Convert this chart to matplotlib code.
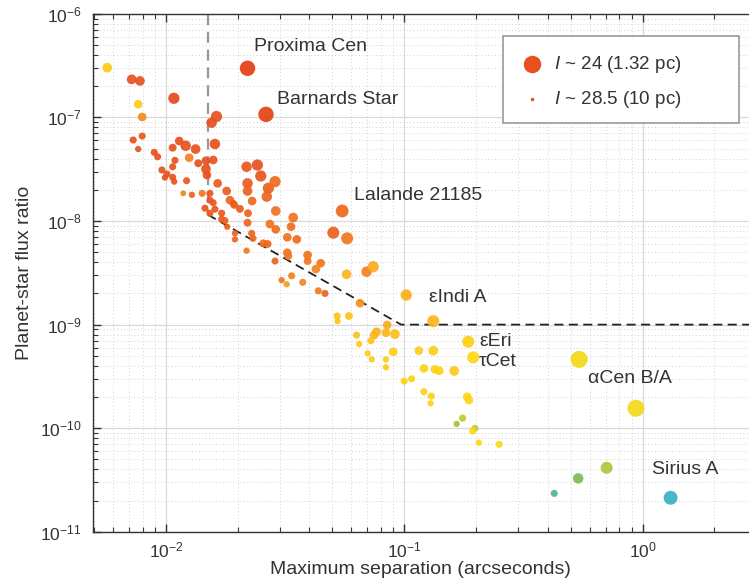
import numpy as np
import matplotlib
matplotlib.use('Agg')
import matplotlib.pyplot as plt
from matplotlib.colors import LinearSegmentedColormap
from matplotlib.patches import Rectangle
from matplotlib.ticker import NullFormatter

# ---- data ----
# separation (arcsec), planet/star flux ratio, I magnitude, stellar Teff (K)
sep = [0.00567, 0.00718, 0.00778, 0.00765, 0.0108, 0.00795, 0.0163, 0.01555,
       0.00729, 0.00795, 0.00765, 0.00893, 0.00923, 0.01067, 0.01137, 0.0121,
       0.01332, 0.01252, 0.01605, 0.01091, 0.01366, 0.01472, 0.01579,
       0.00962, 0.0101, 0.0099, 0.01067, 0.01067, 0.01083, 0.01221, 0.01472,
       0.01486, 0.01648, 0.01182, 0.01285, 0.0142, 0.0153, 0.0153, 0.01579,
       0.01458, 0.01605, 0.0153, 0.01798, 0.01856, 0.01934, 0.02044, 0.01713,
       0.01713, 0.01768, 0.01808, 0.01948, 0.0218, 0.0242, 0.0250, 0.0220,
       0.0220, 0.0230, 0.0269, 0.0287, 0.0265, 0.0289, 0.0221, 0.0220,
       0.01916, 0.01948, 0.0229, 0.0232, 0.0256, 0.0267, 0.0218, 0.0273,
       0.0289, 0.0342, 0.0335, 0.0323, 0.0354, 0.0504, 0.0576, 0.0323,
       0.0326, 0.0287, 0.0393, 0.0393, 0.0446, 0.0426, 0.0337, 0.0306,
       0.0321, 0.0375, 0.0436, 0.0465, 0.0573, 0.0695, 0.0741, 0.0652,
       0.1324, 0.0523, 0.0525, 0.0586, 0.0848, 0.0766, 0.0748, 0.0838,
       0.0914, 0.0631, 0.0725, 0.0647, 0.0702, 0.0730, 0.0899, 0.0838,
       0.0838, 0.1152, 0.1324, 0.1209, 0.1345, 0.1402, 0.1621, 0.1000,
       0.1074, 0.1209, 0.1298, 0.129, 0.1838, 0.1868, 0.1758, 0.1659,
       0.198, 0.1936, 0.2057, 0.2503, 0.938, 0.707, 0.537, 0.426]
flux = [3.02e-7, 2.33e-7, 2.25e-7, 1.34e-7, 1.53e-7, 1.01e-7, 1.02e-7, 8.89e-8,
        6.05e-8, 6.61e-8, 4.95e-8, 4.60e-8, 4.17e-8, 5.10e-8, 5.92e-8, 5.33e-8,
        4.95e-8, 4.08e-8, 5.54e-8, 3.85e-8, 3.61e-8, 3.82e-8, 3.88e-8,
        3.11e-8, 2.84e-8, 2.63e-8, 3.34e-8, 2.64e-8, 2.40e-8, 2.45e-8, 3.18e-8,
        2.78e-8, 2.31e-8, 1.85e-8, 1.79e-8, 1.85e-8, 1.85e-8, 1.59e-8, 1.50e-8,
        1.33e-8, 1.30e-8, 1.19e-8, 1.95e-8, 1.59e-8, 1.43e-8, 1.31e-8, 1.19e-8,
        1.04e-8, 1.01e-8, 8.81e-9, 7.61e-9, 3.34e-8, 3.47e-8, 2.72e-8, 2.31e-8,
        1.95e-8, 1.56e-8, 2.07e-8, 2.40e-8, 1.72e-8, 1.25e-8, 1.19e-8, 9.63e-9,
        1.48e-8, 6.65e-9, 7.61e-9, 6.81e-9, 6.09e-9, 6.00e-9, 5.17e-9, 9.35e-9,
        8.31e-9, 1.08e-8, 8.81e-9, 6.96e-9, 6.65e-9, 7.71e-9, 6.81e-9, 4.94e-9,
        4.59e-9, 4.11e-9, 4.69e-9, 4.11e-9, 3.91e-9, 3.44e-9, 2.96e-9, 2.69e-9,
        2.45e-9, 2.56e-9, 2.12e-9, 2.00e-9, 3.06e-9, 3.24e-9, 3.62e-9, 1.61e-9,
        1.08e-9, 1.21e-9, 1.08e-9, 1.21e-9, 9.91e-10, 8.54e-10, 7.93e-10, 8.35e-10,
        8.11e-10, 7.93e-10, 6.99e-10, 6.49e-10, 5.28e-10, 4.62e-10, 5.47e-10, 4.62e-10,
        3.87e-10, 5.60e-10, 5.60e-10, 3.78e-10, 3.70e-10, 3.59e-10, 3.57e-10, 2.85e-10,
        3.00e-10, 2.25e-10, 2.04e-10, 1.74e-10, 2.01e-10, 1.87e-10, 1.25e-10, 1.10e-10,
        9.97e-11, 9.39e-11, 7.24e-11, 6.99e-11, 1.56e-10, 4.15e-11, 3.28e-11, 2.35e-11]
imag = [27.0, 27.0, 27.0, 27.4, 26.4, 27.4, 26.4, 26.7,
        28.0, 28.0, 28.3, 28.0, 28.0, 27.7, 27.4, 26.7,
        27.0, 27.4, 26.7, 28.0, 27.7, 27.4, 27.4,
        28.0, 28.0, 28.3, 28.0, 28.0, 28.3, 28.0, 27.0,
        27.4, 27.4, 28.5, 28.3, 28.0, 28.0, 28.0, 28.0,
        28.0, 28.0, 28.0, 27.4, 27.4, 27.7, 27.7, 28.0,
        28.0, 28.0, 28.3, 28.3, 26.7, 26.4, 26.4, 26.7,
        27.0, 27.4, 26.4, 26.4, 26.7, 27.0, 27.7, 27.7,
        28.0, 28.3, 28.0, 28.0, 27.7, 27.7, 28.3, 27.4,
        27.4, 27.0, 27.4, 27.4, 27.4, 26.1, 26.1, 27.4,
        27.7, 28.0, 27.4, 27.7, 27.4, 27.4, 28.0, 28.3,
        28.3, 28.0, 28.0, 28.0, 27.0, 26.7, 26.4, 27.4,
        26.1, 28.0, 28.3, 27.7, 27.4, 27.4, 27.4, 27.4,
        27.0, 28.0, 28.0, 28.3, 28.3, 28.3, 27.4, 28.3,
        28.3, 27.4, 27.0, 27.4, 27.4, 27.4, 27.0, 28.0,
        28.0, 28.0, 28.0, 28.3, 27.4, 27.4, 28.0, 28.3,
        28.0, 28.0, 28.3, 28.0, 24.2, 26.1, 26.7, 28.0]
teff = [4800, 3300, 3300, 4900, 3150, 3900, 3300, 3250,
        3300, 3350, 3300, 3300, 3300, 3300, 3300, 3300,
        3300, 3800, 3250, 3300, 3300, 3300, 3300,
        3300, 3300, 3300, 3300, 3300, 3300, 3350, 3300,
        3300, 3400, 3800, 3450, 3700, 3350, 3350, 3350,
        3350, 3350, 3400, 3400, 3500, 3450, 3400, 3400,
        3400, 3450, 3450, 3450, 3350, 3300, 3350, 3400,
        3450, 3550, 3450, 3600, 3500, 3650, 3500, 3500,
        3400, 3500, 3500, 3550, 3550, 3500, 3700, 3650,
        3600, 3650, 3600, 3650, 3600, 3450, 3700, 3650,
        3700, 3500, 3650, 3700, 3700, 3850, 3800, 3700,
        4100, 3850, 3750, 3500, 4500, 3800, 4300, 4000,
        4500, 4700, 4700, 4700, 4300, 4400, 4500, 4500,
        4600, 4700, 4700, 4800, 4900, 4800, 4900, 4900,
        4900, 4900, 4900, 5000, 5000, 5000, 4800, 5000,
        5000, 5000, 5000, 5100, 5100, 5100, 5800, 6100,
        5800, 5200, 5200, 5200, 5400, 5900, 6600, 7500]

# named stars
named = ['Proxima Cen', 'Barnards Star', 'Lalande 21185', 'εIndi A',
         'εEri', 'τCet', 'αCen B/A', 'Sirius A']
named_sep = [0.0220, 0.0263, 0.0549, 0.102, 0.1856, 0.1947, 0.542, 1.311]
named_flux = [2.98e-7, 1.07e-7, 1.25e-8, 1.93e-9, 6.84e-10, 4.83e-10, 4.62e-10, 2.13e-11]
named_imag = [24.8, 24.8, 25.8, 26.4, 26.1, 26.1, 24.2, 25.4]
named_teff = [3100, 3150, 3600, 4400, 5000, 5200, 5400, 9900]

# inner working angle and contrast floor
iwa_sep = 0.015
iwa_flux = [1e-6, 1.15e-8]
curve_sep = [0.015, 0.097, 3.0]
curve_flux = [1.15e-8, 1e-9, 1e-9]

# legend entries
legend_labels = [r'$I$ ~ 24 (1.32 pc)', r'$I$ ~ 28.5 (10 pc)']

# ---- style ----
plt.rcParams['font.family'] = 'Liberation Sans'
plt.rcParams['mathtext.fontset'] = 'custom'
plt.rcParams['mathtext.rm'] = 'Liberation Sans'
plt.rcParams['mathtext.it'] = 'Liberation Sans:italic'

txt = '#333333'
anchors = [(3000, '#e23d19'), (3300, '#e8541e'), (3600, '#ee6f1e'),
           (3900, '#f48b1e'), (4300, '#f9ac1c'), (4800, '#fcca1a'),
           (5300, '#fedc16'), (5900, '#b5c53b'), (6600, '#80bb52'),
           (7500, '#55b68c'), (10000, '#3cb2c6')]
cmap = LinearSegmentedColormap.from_list(
    'teff', [((t - 3000) / 7000, c) for t, c in anchors])


def marker_size(mag):
    d_px = 17.5 - 2.6 * (np.asarray(mag) - 24.0)
    return (d_px * 0.72) ** 2


fig = plt.figure(figsize=(7.49, 5.85), dpi=100)
ax = fig.add_axes([0.1238, 0.0909, 0.8762, 0.8855])
ax.set_xscale('log')
ax.set_yscale('log')
ax.set_xlim(0.00493, 2.797)
ax.set_ylim(1e-11, 1e-6)

ax.grid(which='major', color='#d9d9d9', lw=0.9, ls='-')
ax.grid(which='minor', color='#d2d2d2', lw=0.7, ls=(0, (1, 2.5)))
ax.set_axisbelow(True)

ax.plot([iwa_sep, iwa_sep], iwa_flux, color='#999999', lw=1.6, ls=(0, (5, 3)), zorder=2)
ax.plot(curve_sep, curve_flux, color='#222222', lw=1.3, ls=(0, (5, 3)), zorder=2)

ax.scatter(sep, flux, s=marker_size(imag), c=teff, cmap=cmap, vmin=3000, vmax=10000,
           alpha=0.92, linewidths=0, zorder=3)
ax.scatter(named_sep, named_flux, s=marker_size(named_imag), c=named_teff, cmap=cmap,
           vmin=3000, vmax=10000, alpha=0.95, linewidths=0, zorder=3)

# label offsets in pixels
offsets = [(6, 22), (11, 15), (12, 15), (23, -2), (11, 0), (6, -4), (9, -19), (-19, 28)]
for name, x, y, off in zip(named, named_sep, named_flux, offsets):
    ax.annotate(name, (x, y), xytext=off, textcoords='offset pixels',
                ha='left', va='center', fontsize=14, color=txt)

ax.tick_params(which='both', direction='in', top=True, right=False, colors=txt,
               labelsize=12.5)
ax.tick_params(axis='x', pad=6)
ax.tick_params(axis='y', pad=8)
ax.tick_params(which='major', length=6, width=1)
ax.tick_params(which='minor', length=3.5, width=0.8)
ax.xaxis.set_minor_formatter(NullFormatter())
ax.yaxis.set_minor_formatter(NullFormatter())
for s in ['left', 'bottom', 'top']:
    ax.spines[s].set_color(txt)
    ax.spines[s].set_linewidth(1)
ax.spines['right'].set_visible(False)

ax.set_xlabel('Maximum separation (arcseconds)', fontsize=14, color=txt, labelpad=1)
ax.set_ylabel('Planet-star flux ratio', fontsize=14, color=txt, labelpad=5)

# legend with a wide white box
h1 = ax.scatter([], [], s=(17.5 * 0.72) ** 2, color='#e8501e', linewidths=0)
h2 = ax.scatter([], [], s=(3.5 * 0.72) ** 2, color='#e8501e', linewidths=0)
ax.add_patch(Rectangle((503 / 749, 1 - 123 / 585), 236 / 749, 87 / 585,
                       transform=fig.transFigure, facecolor='white',
                       edgecolor='#999999', lw=1.2, zorder=4.9, clip_on=False))
ax.legend([h1, h2], legend_labels,
          loc='upper left', bbox_to_anchor=(513 / 749, 1 - 54 / 585),
          bbox_transform=fig.transFigure, frameon=False, fontsize=13.5,
          handletextpad=0.2, labelspacing=0.75, borderpad=0, borderaxespad=0,
          scatterpoints=1, labelcolor=txt)

fig.savefig('out.png', dpi=100)
